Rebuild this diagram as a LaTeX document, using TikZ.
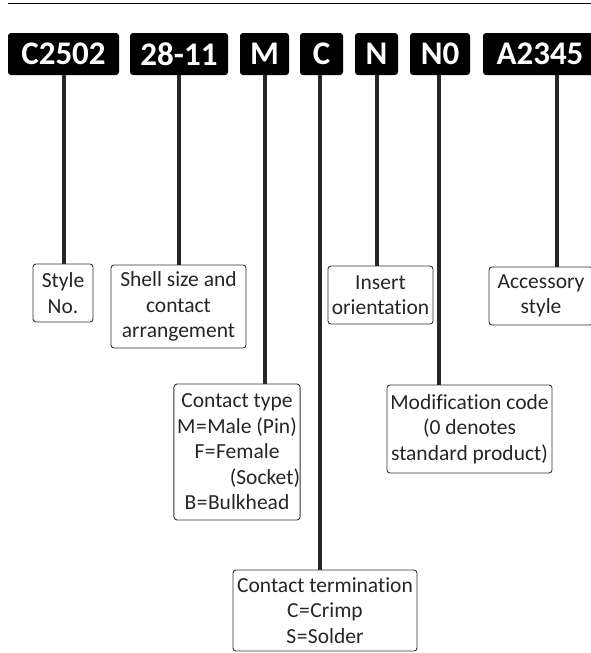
\documentclass[tikz,border=0pt]{standalone}
\usepackage{fontspec}
\setmainfont{Carlito}[Ligatures=NoCommon]
\newcommand{\eqs}{\kern0.5pt=\kern0.5pt}
\begin{document}
\begin{tikzpicture}[x=1pt,y=-1pt,
  hdr/.style={fill=black, rounded corners=3pt, text=white, font=\fontsize{33}{33}\selectfont\bfseries, inner sep=0pt, minimum height=42pt},
  lbl/.style={draw=black!80, line width=0.9pt, fill=white, rounded corners=3pt, align=center, inner sep=0pt, font=\fontsize{21.5}{25.5}\selectfont, text=black!85},
  stem/.style={line width=4pt, draw=black!85}]
\useasboundingbox (0,0) rectangle (590,653);
\draw[line width=1.5pt] (8,3.5) -- (592,3.5);
% header codes
\node[hdr, minimum width=111pt] (h1) at (63.5,54) {C2502};
\node[hdr, minimum width=98pt] (h2) at (179,54) {28-11};
\node[hdr, minimum width=49pt] (h3) at (264.5,54) {M};
\node[hdr, minimum width=43pt] (h4) at (321.5,54) {C};
\node[hdr, minimum width=43pt] (h5) at (376.5,54) {N};
\node[hdr, minimum width=60pt] (h6) at (440,54) {N0};
\node[hdr, minimum width=114pt] (h7) at (540,54) {A2345};
% labels
\node[lbl, minimum width=60pt, minimum height=58pt] (l1) at (63,293) {Style\\No.};
\node[lbl, minimum width=135pt, minimum height=83pt] (l2) at (178.5,306.5) {Shell size and\\contact\\arrangement};
\node[lbl, minimum width=126pt, minimum height=136pt] (l3) at (237,452) {Contact type\\M\eqs Male (Pin)\\F\eqs Female\\\hspace*{2.6em}(Socket)\\B\eqs Bulkhead};
\node[lbl, minimum width=184pt, minimum height=81pt] (l4) at (325,610.5) {Contact termination\\C\eqs Crimp\\S\eqs Solder};
\node[lbl, minimum width=105pt, minimum height=58pt] (l5) at (380.5,295) {Insert\\orientation};
\node[lbl, minimum width=165pt, minimum height=88pt] (l6) at (469.5,429) {Modification code\\(0 denotes\\standard product)};
\node[lbl, minimum width=104pt, minimum height=58pt] (l7) at (541,296) {Accessory\\style};
% stems
\coordinate (s1) at (h1.south);
\coordinate (s2) at (h2.south);
\coordinate (s3) at (h3.south);
\coordinate (s4) at ([xshift=-1.5pt]h4.south);
\coordinate (s5) at (h5.south);
\coordinate (s6) at ([xshift=-1pt]h6.south);
\coordinate (s7) at ([xshift=17pt]h7.south);
\draw[stem] (s1) -- (s1 |- l1.north);
\draw[stem] (s2) -- (s2 |- l2.north);
\draw[stem] (s3) -- (s3 |- l3.north);
\draw[stem] (s4) -- (s4 |- l4.north);
\draw[stem] (s5) -- (s5 |- l5.north);
\draw[stem] (s6) -- (s6 |- l6.north);
\draw[stem] (s7) -- (s7 |- l7.north);
\end{tikzpicture}
\end{document}
